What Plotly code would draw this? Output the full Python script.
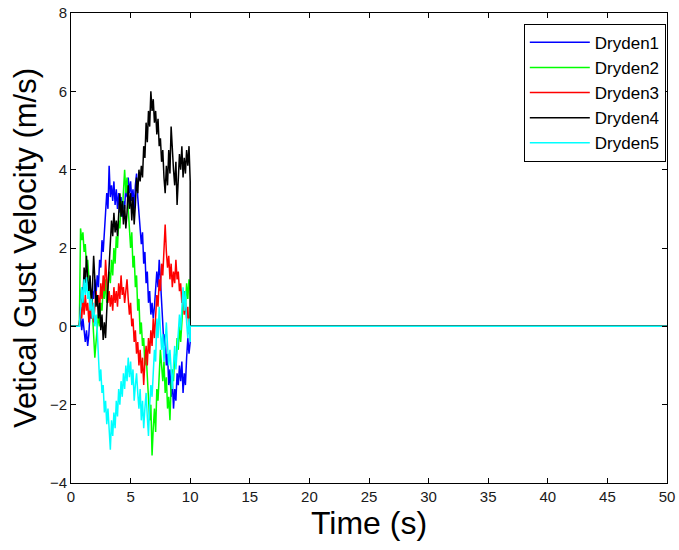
import plotly.graph_objects as go

# Time grid of the gust record (s): 0.8 .. 10.0 in 0.1 s steps
t_gust = [round(0.8 + 0.1 * i, 1) for i in range(93)]
t_pre = [0.0, 0.7]
t_post = [10.0, 50.0]
zeros_pre = [0.0, 0.0]
zeros_post = [0.0, 0.0]

dryden1 = [
    0.3, -0.1, 0.2, -0.2, -0.4, -0.1, -0.5, -0.2, 0.4, 0.2,
    0.9, 0.7, 1.2, 0.8, 1.3, 1.0, 1.7, 1.5, 2.2, 1.9,
    2.6, 2.9, 3.4, 3.0, 4.1, 3.3, 3.6, 3.2, 3.7, 3.1,
    3.5, 3.0, 3.4, 2.9, 3.3, 2.8, 3.2, 3.0, 3.6, 3.3,
    3.8, 3.4, 3.7, 3.2, 3.5, 3.0, 3.6, 3.9, 3.3, 2.9,
    2.5, 2.1, 2.4, 1.6, 1.9, 1.1, 1.4, 0.6, 0.9, 0.3,
    0.6, 0.2, 0.5, 0.9, 1.4, 1.0, 1.7, 1.2, 0.5, 0.1,
    -0.5, -0.2, -1.0, -0.7, -1.5, -1.1, -1.8, -1.4, -2.1, -1.6,
    -1.9, -1.2, -1.5, -1.0, -1.4, -0.9, -1.7, -1.2, -1.5, -0.8,
    -0.3, -0.7, -0.4,
]
dryden2 = [
    2.5, 2.2, 2.4, 1.9, 2.1, 1.5, 1.7, 1.2, 0.8, 0.9,
    0.2, -0.3, -0.8, -0.4, 0.1, 0.3, 0.0, 0.6, 0.4, 1.0,
    0.7, 1.2, 0.6, 1.0, 1.4, 1.1, 1.7, 1.3, 2.0, 1.6,
    2.3, 2.0, 2.7, 2.5, 3.2, 2.9, 3.6, 4.0, 3.4, 3.8,
    3.0, 2.6, 2.0, 2.4, 1.5, 1.8, 1.0, 1.3, 0.4, 0.7,
    -0.2, 0.1, -0.5, -0.3, -1.0, -0.7, -1.3, -1.8, -2.4, -2.0,
    -3.3, -2.6, -2.1, -2.7, -1.6, -1.9, -1.2, -0.6, -1.0, -1.4,
    -0.9, -1.7, -1.3, -2.1, -1.8, -2.4, -1.5, -1.1, -1.4, -0.7,
    -1.0, -0.3, -0.6, 0.0, -0.4, 0.3, 0.6, 0.9, 0.5, 1.1,
    0.7, 1.2, 0.9,
]
dryden3 = [
    0.5, 0.2, 0.7, 0.3, 0.8, 0.4, 0.6, 0.1, 0.5, 0.2,
    0.6, 0.1, 0.5, 0.9, 0.6, 0.8, 0.4, 1.1, 0.7, 1.3,
    0.9, 1.7, 1.2, 0.6, 0.9, 0.5, 0.8, 0.4, 1.0, 0.6,
    0.9, 0.5, 1.1, 0.7, 1.3, 0.8, 1.0, 0.6, 0.9, 1.2,
    0.7, 0.3, 0.6, 0.0, 0.2, -0.4, -0.1, -0.7, -0.4, -1.0,
    -0.6, -1.2, -0.8, -1.5, -0.9, -0.5, -1.0, -0.3, -0.7, -0.1,
    -0.5, 0.2, -0.3, 0.3, 0.8, 0.5, 1.2, 0.9, 1.6, 1.3,
    2.0, 2.6, 1.9, 1.5, 1.8, 1.2, 1.6, 1.0, 1.4, 1.1,
    1.7, 1.2, 1.4, 0.9, 1.1, 0.6, 0.8, 0.3, 0.6, 0.2,
    0.5, -0.2, 0.1,
]
dryden4 = [
    0.5, 1.0, 0.6, 1.5, 1.1, 1.8, 1.2, 0.9, 1.3, 0.6,
    1.0, 1.8, 1.2, 0.5, 0.8, 0.2, 0.6, -0.1, 0.3, -0.35,
    0.1, -0.3, 0.4, 1.0, 1.6, 2.1, 2.7, 2.3, 2.9, 2.4,
    2.7, 2.3, 3.0, 3.4, 2.8, 3.2, 2.6, 3.1, 2.5, 2.9,
    3.6, 3.0, 3.4, 2.7, 3.3, 2.6, 3.1, 3.8, 3.4, 4.0,
    3.7, 4.1, 3.8, 4.6, 4.3, 5.2, 4.7, 5.5, 5.1, 6.0,
    5.5, 5.8, 5.2, 5.5, 4.9, 5.3, 4.6, 4.8, 4.2, 4.5,
    3.8, 3.4, 4.1, 3.6, 4.5, 3.9, 5.1, 4.4, 4.0, 3.6,
    4.2, 3.1, 3.9, 4.4, 4.0, 4.6, 3.8, 4.3, 3.9, 4.5,
    4.1, 4.6, 3.7,
]
dryden5 = [
    0.5, 1.0, 0.6, 1.2, 0.8, 1.25, 0.7, 0.9, 0.4, 0.7,
    0.2, 0.6, 0.0, 0.3, -0.1, -0.8, -1.4, -1.1, -1.7, -1.5,
    -2.2, -1.9, -2.5, -2.1, -2.7, -3.15, -2.4, -2.8, -2.2, -2.6,
    -1.9, -2.3, -1.6, -2.0, -1.4, -1.8, -1.2, -1.6, -1.0, -1.4,
    -0.8, -1.3, -0.9, -1.5, -1.1, -1.9, -1.5, -1.2, -1.7, -2.1,
    -1.6, -2.4, -1.9, -2.6, -2.1, -1.7, -2.3, -2.8, -2.0, -1.5,
    -1.8, -1.1, -0.6, -0.9, 0.2, -0.3, 0.5, -0.1, -0.6, -0.2,
    -0.9, -0.4, 0.1, -0.5, -1.0, -0.6, -1.3, -1.6, -1.0, -0.5,
    -1.1, -0.7, -0.2, 0.3, -0.1, 0.7, 1.0, 0.4, 0.9, 0.1,
    -0.3, 0.2, -0.4,
]

series_names = ["Dryden1", "Dryden2", "Dryden3", "Dryden4", "Dryden5"]
series_values = [dryden1, dryden2, dryden3, dryden4, dryden5]
series_colors = ["#0000FF", "#00FF00", "#FF0000", "#000000", "#00FFFF"]

x_tick_vals = [0, 5, 10, 15, 20, 25, 30, 35, 40, 45, 50]
y_tick_vals = [-4, -2, 0, 2, 4, 6, 8]

FONT = "Liberation Sans, Arial, sans-serif"

fig = go.Figure()
for name, vals, col in zip(series_names, series_values, series_colors):
    assert len(vals) == len(t_gust)
    fig.add_trace(go.Scatter(
        x=t_pre + t_gust + t_post,
        y=zeros_pre + vals + zeros_post,
        mode="lines",
        name=name,
        line=dict(color=col, width=1.5),
    ))

axis_common = dict(
    showgrid=False, zeroline=False, showline=True, linecolor="#000000",
    linewidth=1, mirror="ticks", ticks="inside", ticklen=5, tickwidth=1,
    tickcolor="#000000", automargin=False,
    tickfont=dict(family=FONT, size=15, color="#1a1a1a"),
)

fig.update_layout(
    width=679, height=550,
    margin=dict(l=71, r=12, t=13, b=67),
    paper_bgcolor="white", plot_bgcolor="white",
    font=dict(family=FONT, color="#000000"),
    xaxis=dict(range=[0, 50], tickvals=x_tick_vals,
               title=dict(text="Time (s)", font=dict(family=FONT, size=32), standoff=5),
               **axis_common),
    yaxis=dict(range=[-4, 8], tickvals=y_tick_vals,
               title=dict(text="Vetical Gust Velocity (m/s)", font=dict(family=FONT, size=31), standoff=4),
               **axis_common),
    legend=dict(x=0.998, y=0.977, xanchor="right", yanchor="top",
                bgcolor="white", bordercolor="#000000", borderwidth=1,
                font=dict(family=FONT, size=17, color="#000000"),
                tracegroupgap=0, itemwidth=60),
    showlegend=True,
)

fig.write_html("out.html")
